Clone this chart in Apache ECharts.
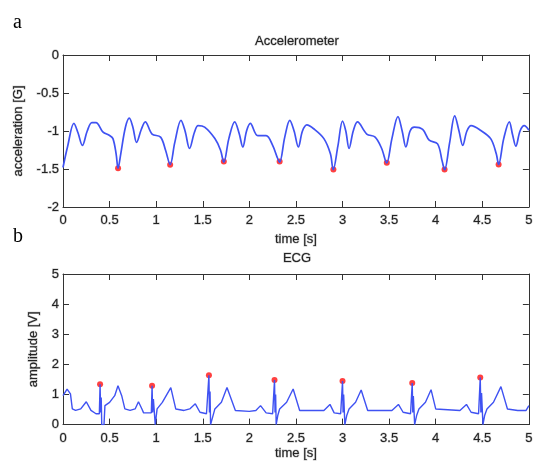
<!DOCTYPE html>
<html>
<head>
<meta charset="utf-8">
<script src="https://cdn.jsdelivr.net/npm/echarts@6/dist/echarts.min.js"></script>
<style>
  html, body { margin: 0; padding: 0; background: #fff; }
  #chart { width: 536px; height: 461px; }
</style>
</head>
<body>
<div id="chart"></div>
<script>
// accelerometer trace (time in s, acceleration in G)
var accTime = [0, 0.05, 0.117, 0.16, 0.208, 0.26, 0.31, 0.354, 0.427, 0.5, 0.536, 0.57, 0.591, 0.62, 0.67, 0.712, 0.75, 0.79, 0.84, 0.883, 0.956, 1.047, 1.1, 1.15, 1.2, 1.266, 1.31, 1.358, 1.41, 1.45, 1.52, 1.63, 1.69, 1.726, 1.78, 1.843, 1.89, 1.93, 1.97, 2.01, 2.09, 2.18, 2.25, 2.3, 2.325, 2.38, 2.434, 2.48, 2.526, 2.57, 2.617, 2.69, 2.8, 2.87, 2.9, 2.95, 3.0, 3.035, 3.07, 3.115, 3.16, 3.26, 3.35, 3.42, 3.474, 3.53, 3.595, 3.64, 3.68, 3.725, 3.77, 3.86, 3.93, 4.02, 4.07, 4.095, 4.15, 4.204, 4.25, 4.29, 4.335, 4.38, 4.48, 4.59, 4.65, 4.675, 4.73, 4.79, 4.825, 4.86, 4.905, 4.95, 5.0];
var accValue = [-1.48, -1.2, -0.9, -1.02, -1.19, -1.0, -0.89, -0.89, -1.01, -1.06, -1.1, -1.3, -1.49, -1.3, -0.95, -0.83, -0.95, -1.15, -0.98, -0.88, -1.04, -1.08, -1.25, -1.44, -1.15, -0.86, -1.0, -1.23, -1.02, -0.93, -0.95, -1.1, -1.25, -1.41, -1.1, -0.88, -1.03, -1.21, -1.0, -0.9, -1.06, -1.06, -1.19, -1.35, -1.41, -1.08, -0.86, -1.0, -1.21, -1.0, -0.92, -0.97, -1.1, -1.3, -1.51, -1.2, -0.87, -1.0, -1.23, -1.0, -0.88, -1.04, -1.08, -1.23, -1.42, -1.1, -0.81, -1.0, -1.21, -1.0, -0.95, -0.98, -1.12, -1.17, -1.4, -1.51, -1.15, -0.8, -1.0, -1.19, -1.0, -0.93, -0.99, -1.1, -1.3, -1.44, -1.1, -0.88, -1.05, -1.2, -1.0, -0.93, -0.99];
var accPeakTime = [0.591, 1.15, 1.726, 2.325, 2.902, 3.475, 4.095, 4.675];
var accPeakValue = [-1.49, -1.445, -1.40, -1.40, -1.507, -1.418, -1.507, -1.44];

// ECG trace (time in s, amplitude in V)
var ecgTime = [0, 0.044, 0.08, 0.1, 0.135, 0.19, 0.25, 0.3, 0.354, 0.39, 0.398, 0.404, 0.41, 0.416, 0.44, 0.45, 0.5, 0.555, 0.59, 0.63, 0.664, 0.72, 0.774, 0.81, 0.847, 0.865, 0.948, 0.956, 0.962, 0.97, 0.99, 1.01, 1.066, 1.157, 1.21, 1.3, 1.36, 1.42, 1.47, 1.54, 1.558, 1.566, 1.572, 1.578, 1.584, 1.6, 1.63, 1.7, 1.76, 1.85, 2.0, 2.07, 2.12, 2.18, 2.25, 2.262, 2.27, 2.276, 2.282, 2.288, 2.305, 2.325, 2.4, 2.47, 2.54, 2.8, 2.865, 2.91, 2.98, 2.993, 3.0, 3.006, 3.012, 3.025, 3.045, 3.07, 3.14, 3.2, 3.27, 3.53, 3.6, 3.65, 3.73, 3.742, 3.748, 3.754, 3.76, 3.774, 3.795, 3.82, 3.89, 3.95, 4.0, 4.26, 4.33, 4.38, 4.46, 4.472, 4.478, 4.485, 4.492, 4.507, 4.525, 4.55, 4.62, 4.7, 4.77, 4.88, 4.97, 5.0];
var ecgValue = [0.96, 1.18, 1.02, 0.52, 0.47, 0.52, 0.76, 0.47, 0.36, 0.36, 1.34, 0.4, 0.9, 0.0, 0.0, 0.63, 0.74, 0.96, 1.29, 0.96, 0.52, 0.47, 0.52, 0.76, 0.52, 0.39, 0.39, 1.29, 0.4, 0.85, 0.0, 0.52, 0.74, 1.23, 0.52, 0.47, 0.52, 0.69, 0.41, 0.36, 0.36, 1.64, 0.4, 1.1, 0.0, 0.0, 0.52, 0.74, 1.23, 0.47, 0.44, 0.47, 0.63, 0.39, 0.36, 0.36, 1.48, 0.4, 1.0, 0.0, 0.3, 0.52, 0.74, 1.18, 0.47, 0.47, 0.67, 0.39, 0.36, 0.36, 1.45, 0.4, 1.0, 0.0, 0.3, 0.52, 0.74, 1.15, 0.47, 0.47, 0.67, 0.41, 0.36, 0.36, 1.38, 0.4, 0.95, 0.0, 0.3, 0.52, 0.74, 1.16, 0.52, 0.47, 0.67, 0.41, 0.36, 0.36, 1.56, 0.4, 1.05, 0.0, 0.3, 0.52, 0.74, 1.26, 0.52, 0.47, 0.47, 0.63];
var ecgPeakTime = [0.398, 0.956, 1.566, 2.27, 3.0, 3.748, 4.478];
var ecgPeakValue = [1.34, 1.29, 1.64, 1.48, 1.45, 1.38, 1.56];

var lineColor = '#3f52f2';
var labelStyle = {
    color: '#222', fontFamily: 'Liberation Sans, Arial', fontSize: 13,
    textBorderColor: 'rgba(60,60,60,0.35)', textBorderWidth: 1
};
var axisLineStyle = { onZero: false, lineStyle: { color: '#333', width: 1 } };
var tickStyle = { inside: true, length: 6, lineStyle: { color: '#333' } };

function pairs(xs, ys) {
    return xs.map(function (x, i) { return [x, ys[i]]; });
}

function bottomX(gridIndex, gap) {
    return {
        gridIndex: gridIndex, type: 'value', min: 0, max: 5, interval: 0.5,
        position: 'bottom',
        name: 'time [s]', nameLocation: 'middle', nameGap: gap,
        nameTextStyle: labelStyle,
        axisLine: axisLineStyle,
        axisTick: tickStyle,
        axisLabel: Object.assign({ margin: 7 }, labelStyle),
        splitLine: { show: false }
    };
}
function topX(gridIndex) {
    return {
        gridIndex: gridIndex, type: 'value', min: 0, max: 5, interval: 0.5,
        position: 'top',
        axisLine: axisLineStyle,
        axisTick: tickStyle,
        axisLabel: { show: false },
        splitLine: { show: false }
    };
}
function leftY(gridIndex, min, max, step, name, gap) {
    return {
        gridIndex: gridIndex, type: 'value', min: min, max: max, interval: step,
        position: 'left',
        name: name, nameLocation: 'middle', nameGap: gap,
        nameTextStyle: labelStyle,
        axisLine: axisLineStyle,
        axisTick: tickStyle,
        axisLabel: Object.assign({ margin: 4 }, labelStyle),
        splitLine: { show: false }
    };
}
function rightY(gridIndex, min, max, step) {
    return {
        gridIndex: gridIndex, type: 'value', min: min, max: max, interval: step,
        position: 'right',
        axisLine: axisLineStyle,
        axisTick: tickStyle,
        axisLabel: { show: false },
        splitLine: { show: false }
    };
}

var titleStyle = Object.assign({ fontWeight: 'normal' }, labelStyle);

var myChart = echarts.init(document.getElementById('chart'));

var option = {
    animation: false,
    backgroundColor: '#fff',
    title: [
        { text: 'Accelerometer', left: 297, top: 35, textAlign: 'center', padding: 0, textStyle: titleStyle },
        { text: 'ECG', left: 297, top: 252, textAlign: 'center', padding: 0, textStyle: titleStyle }
    ],
    graphic: [
        { type: 'text', left: 13, top: 13, style: { text: 'a', fontFamily: 'Liberation Serif, Times New Roman', fontSize: 20, fill: '#000' } },
        { type: 'text', left: 13, top: 227, style: { text: 'b', fontFamily: 'Liberation Serif, Times New Roman', fontSize: 20, fill: '#000' } }
    ],
    grid: [
        { left: 63, top: 55, width: 468, height: 152 },
        { left: 63, top: 274, width: 468, height: 151 }
    ],
    xAxis: [bottomX(0, 26), topX(0), bottomX(1, 20), topX(1)],
    yAxis: [
        leftY(0, -2, 0, 0.5, 'acceleration [G]', 38),
        rightY(0, -2, 0, 0.5),
        leftY(1, 0, 5, 1, 'amplitude [V]', 19),
        rightY(1, 0, 5, 1)
    ],
    series: [
        { type: 'line', xAxisIndex: 0, yAxisIndex: 0, data: pairs(accTime, accValue),
          smooth: 0.35, showSymbol: false, lineStyle: { color: lineColor, width: 1.7 } },
        { type: 'scatter', xAxisIndex: 0, yAxisIndex: 0, data: pairs(accPeakTime, accPeakValue),
          symbol: 'circle', symbolSize: 6, itemStyle: { color: '#ff1010' } },
        { type: 'line', xAxisIndex: 2, yAxisIndex: 2, data: pairs(ecgTime, ecgValue),
          showSymbol: false, lineStyle: { color: lineColor, width: 1.4 } },
        { type: 'scatter', xAxisIndex: 2, yAxisIndex: 2, data: pairs(ecgPeakTime, ecgPeakValue),
          symbol: 'circle', symbolSize: 6, itemStyle: { color: '#ff1010' } }
    ]
};

myChart.setOption(option);
</script>
</body>
</html>
